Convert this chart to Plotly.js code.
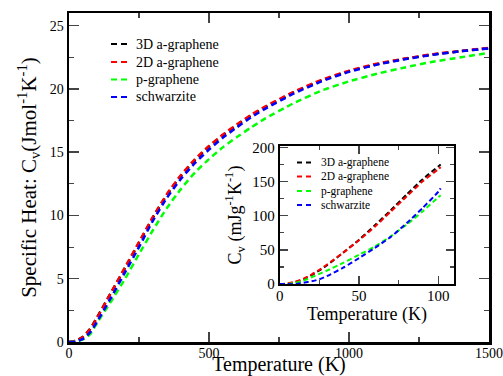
<!DOCTYPE html>
<html>
<head>
<meta charset="utf-8">
<script src="https://cdn.plot.ly/plotly-3.0.1.min.js"></script>
<style>html,body{margin:0;padding:0;background:#fff;}#chart{width:503px;height:376px;}</style>
</head>
<body>
<div id="chart"></div>
<script>
// ---- main panel data: temperature (K) vs molar specific heat (J mol^-1 K^-1)
var tMain = [0, 25, 50, 75, 100, 150, 200, 250, 300, 350, 400, 450, 500, 550, 600, 650, 700, 800, 900, 1000, 1100, 1200, 1300, 1400, 1500];
var cv3D = [0, 0.1, 0.42, 1.02, 1.95, 3.9, 5.85, 7.85, 9.85, 11.65, 13.15, 14.4, 15.45, 16.35, 17.15, 17.9, 18.55, 19.7, 20.65, 21.4, 21.95, 22.38, 22.72, 22.98, 23.2];
var cv2D = [0, 0.1, 0.4, 1.0, 1.9, 3.9, 5.9, 7.9, 9.9, 11.7, 13.2, 14.45, 15.5, 16.4, 17.2, 17.95, 18.6, 19.75, 20.7, 21.45, 22.0, 22.4, 22.75, 23.0, 23.25];
var cvP = [0, 0.03, 0.2, 0.6, 1.5, 3.2, 5.0, 6.95, 8.85, 10.6, 12.1, 13.4, 14.45, 15.4, 16.2, 16.95, 17.65, 18.85, 19.85, 20.6, 21.2, 21.7, 22.15, 22.5, 22.85];
var cvSch = [0, 0.03, 0.25, 0.75, 1.6, 3.5, 5.5, 7.5, 9.6, 11.4, 12.9, 14.15, 15.2, 16.15, 16.97, 17.75, 18.42, 19.6, 20.58, 21.35, 21.92, 22.35, 22.7, 22.98, 23.2];

// ---- inset data: low temperature (K) vs specific heat (mJ g^-1 K^-1)
var tIn = [0, 5, 10, 15, 20, 25, 30, 40, 50, 60, 70, 80, 90, 100, 101.5];
var in3D = [0, 0.5, 3, 7, 13, 20, 28, 46, 65, 86, 108, 131, 153, 172, 175];
var in2D = [0, 1, 4, 8, 14, 21, 29, 46, 64, 84, 106, 128, 150, 168, 171];
var inP = [0, 0, 2, 5, 10, 15, 20, 31, 43, 55, 70, 87, 106, 127, 130];
var inSch = [0, 0, 0, 2, 4, 7, 12, 24, 38, 53, 69, 89, 111, 135, 140];

var names = ['3D a-graphene', '2D a-graphene', 'p-graphene', 'schwarzite'];
var colors = ['#000000', '#ff0000', '#00ff00', '#0000ff'];
var mainSeries = [cv3D, cv2D, cvP, cvSch];
var insetSeries = [in3D, in2D, inP, inSch];

var serif = 'Liberation Serif, Times New Roman, Times, serif';
var traces = [];
for (var i = 0; i < 4; i++) {
  traces.push({
    x: tMain, y: mainSeries[i], name: names[i], type: 'scatter', mode: 'lines',
    line: {color: colors[i], width: 2.5, dash: '6px,4px', shape: 'spline', smoothing: 0.5},
    xaxis: 'x', yaxis: 'y', showlegend: false
  });
}
for (var j = 0; j < 4; j++) {
  traces.push({
    x: tIn, y: insetSeries[j], name: names[j], type: 'scatter', mode: 'lines',
    line: {color: colors[j], width: 2, dash: '5px,3px', shape: 'spline', smoothing: 0.5},
    xaxis: 'x2', yaxis: 'y2', showlegend: false
  });
}

// ---- legend keys drawn in paper space (main plot area: 69..489 px, 13..342 px)
function px2x(px) { return (px - 69) / 420; }
function py2y(py) { return 1 - (py - 13) / 329; }
var shapes = [];
var annotations = [];
var mainRows = [44, 62, 79.5, 97];
var insetRows = [162.5, 176.5, 191, 205];
for (var k = 0; k < 4; k++) {
  shapes.push({type: 'line', xref: 'paper', yref: 'paper',
    x0: px2x(111), x1: px2x(128), y0: py2y(mainRows[k]), y1: py2y(mainRows[k]),
    line: {color: colors[k], width: 2, dash: '6px,4px'}});
  annotations.push({xref: 'paper', yref: 'paper', x: px2x(134), y: py2y(mainRows[k]),
    xanchor: 'left', yanchor: 'middle', showarrow: false, text: names[k],
    font: {family: serif, size: 14, color: '#000'}});
  shapes.push({type: 'line', xref: 'paper', yref: 'paper',
    x0: px2x(297), x1: px2x(312), y0: py2y(insetRows[k]), y1: py2y(insetRows[k]),
    line: {color: colors[k], width: 1.8, dash: '5px,4px'}});
  annotations.push({xref: 'paper', yref: 'paper', x: px2x(319), y: py2y(insetRows[k]),
    xanchor: 'left', yanchor: 'middle', showarrow: false, text: names[k],
    font: {family: serif, size: 11.5, color: '#000'}});
}

var layout = {
  width: 503, height: 376,
  margin: {l: 69, r: 14, t: 13, b: 34},
  paper_bgcolor: '#ffffff', plot_bgcolor: '#ffffff',
  font: {family: serif, size: 14, color: '#000'},
  showlegend: false,
  shapes: shapes,
  annotations: annotations,
  xaxis: {
    range: [0, 1500], tick0: 0, dtick: 500, ticks: 'inside', ticklen: 10, tickwidth: 1.5,
    minor: {dtick: 250, ticks: 'inside', ticklen: 5, tickwidth: 1.2},
    showline: true, linewidth: 2.5, linecolor: '#000', mirror: 'allticks',
    showgrid: false, zeroline: false, tickfont: {family: serif, size: 14},
    ticklabelstandoff: -3,
    title: {text: 'Temperature (K)', font: {family: serif, size: 20}, standoff: 0},
    domain: [0, 1], anchor: 'y'
  },
  yaxis: {
    range: [0, 26], tick0: 0, dtick: 5, ticks: 'inside', ticklen: 10, tickwidth: 1.5,
    minor: {dtick: 2.5, ticks: 'inside', ticklen: 5, tickwidth: 1.2},
    showline: true, linewidth: 2.5, linecolor: '#000', mirror: 'allticks',
    showgrid: false, zeroline: false, tickfont: {family: serif, size: 14},
    title: {text: 'Specific Heat: C<sub>v</sub>(Jmol<sup>-1</sup>K<sup>-1</sup>)', font: {family: serif, size: 21}, standoff: 8},
    domain: [0, 1], anchor: 'x'
  },
  xaxis2: {
    range: [0, 110], tick0: 0, dtick: 50, ticks: 'inside', ticklen: 8, tickwidth: 1.5,
    minor: {dtick: 25, ticks: 'inside', ticklen: 4, tickwidth: 1.2},
    showline: true, linewidth: 2, linecolor: '#000', mirror: 'allticks',
    showgrid: false, zeroline: false, tickfont: {family: serif, size: 15},
    ticklabelstandoff: -3,
    title: {text: 'Temperature (K)', font: {family: serif, size: 18}, standoff: 0},
    domain: [0.502, 0.917], anchor: 'y2'
  },
  yaxis2: {
    range: [0, 202], tick0: 0, dtick: 50, ticks: 'inside', ticklen: 8, tickwidth: 1.5,
    minor: {dtick: 25, ticks: 'inside', ticklen: 4, tickwidth: 1.2},
    showline: true, linewidth: 2, linecolor: '#000', mirror: 'allticks',
    showgrid: false, zeroline: false, tickfont: {family: serif, size: 15},
    title: {text: 'C<sub>v</sub> (mJg<sup>-1</sup>K<sup>-1</sup>)', font: {family: serif, size: 18}, standoff: 6},
    domain: [0.176, 0.596], anchor: 'x2'
  }
};

Plotly.newPlot('chart', traces, layout, {displayModeBar: false, staticPlot: true});
</script>
</body>
</html>
